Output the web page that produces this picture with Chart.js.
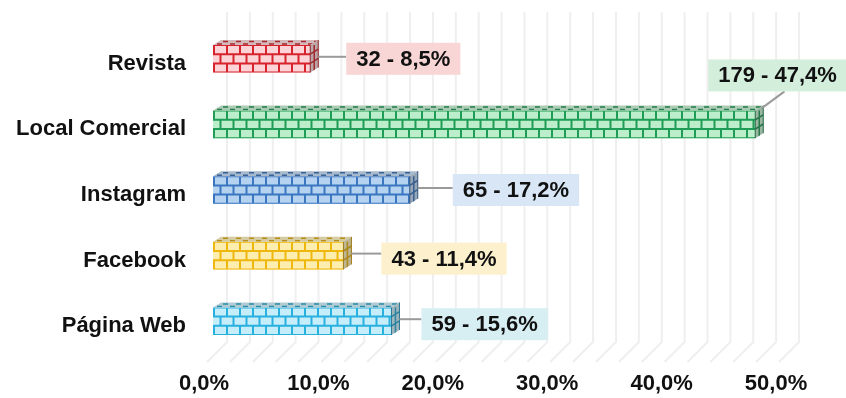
<!DOCTYPE html>
<html>
<head>
<meta charset="utf-8">
<script src="https://cdn.jsdelivr.net/npm/chart.js@4.4.0/dist/chart.umd.min.js"></script>
<style>
  html, body { margin: 0; padding: 0; background: #fff; }
</style>
</head>
<body>
<canvas id="chart" width="846" height="398"></canvas>
<script>
var categories = ['Revista', 'Local Comercial', 'Instagram', 'Facebook', 'Página Web'];
var counts = [32, 179, 65, 43, 59];
var percents = [8.5, 47.4, 17.2, 11.4, 15.6];
var tickValues = [0, 10, 20, 30, 40, 50];

var brickColors = ['#fcd3d6', '#bdeecb', '#b5d3f1', '#fdeeb0', '#c6eefa'];
var mortarColors = ['#d8232d', '#1f9c55', '#3b76c0', '#efb60c', '#28b0de'];
var boxColors = ['#f8d6d6', '#d4eedc', '#d9e6f6', '#fdf0cd', '#d7eef3'];

// label box placement relative to the bar end (dx, dy)
var labelShift = [[28, 0], [-55, -49], [35, 0], [30, 3], [22, 3]];

var FONT = '"Liberation Sans", Arial, sans-serif';
var DEPTH_X = 8, DEPTH_Y = 5;

function mix(hex, other, t) {
  var a = parseInt(hex.slice(1), 16), b = parseInt(other.slice(1), 16);
  var r = Math.round(((a >> 16) & 255) * (1 - t) + ((b >> 16) & 255) * t);
  var g = Math.round(((a >> 8) & 255) * (1 - t) + ((b >> 8) & 255) * t);
  var bl = Math.round((a & 255) * (1 - t) + (b & 255) * t);
  return 'rgb(' + r + ',' + g + ',' + bl + ')';
}

function fmtPct(v) {
  return v.toFixed(1).replace('.', ',') + '%';
}

function drawBricks(ctx, x0, y0, w, h, mortar) {
  var rows = 3, rh = h / rows, bw = 13;
  ctx.save();
  ctx.beginPath();
  ctx.rect(x0, y0, w, h);
  ctx.clip();
  ctx.strokeStyle = mortar;
  ctx.lineWidth = 2;
  ctx.beginPath();
  for (var r = 0; r <= rows; r++) {
    var yy = y0 + r * rh;
    ctx.moveTo(x0, yy);
    ctx.lineTo(x0 + w, yy);
  }
  for (r = 0; r < rows; r++) {
    var off = (r % 2) ? bw / 2 : 0;
    for (var xx = x0 + 1 + off; xx <= x0 + w; xx += bw) {
      ctx.moveTo(xx, y0 + r * rh);
      ctx.lineTo(xx, y0 + (r + 1) * rh);
    }
  }
  ctx.stroke();
  ctx.restore();
}

var wallPlugin = {
  id: 'wall',
  beforeDatasetsDraw: function (chart) {
    var ctx = chart.ctx, xs = chart.scales.x, area = chart.chartArea;
    var top = area.top - 14, bottom = area.bottom - 12;
    ctx.save();
    ctx.lineWidth = 2;
    for (var v = 0; v <= 50; v += 2) {
      var bx = xs.getPixelForValue(v) + 14;
      ctx.strokeStyle = '#efefef';
      ctx.beginPath();
      ctx.moveTo(bx, top);
      ctx.lineTo(bx, bottom);
      ctx.lineTo(bx - 20, bottom + 20);
      ctx.stroke();
    }
    ctx.restore();
  }
};

var brickPlugin = {
  id: 'bricks',
  afterDatasetsDraw: function (chart) {
    var ctx = chart.ctx;
    var meta = chart.getDatasetMeta(0);
    meta.data.forEach(function (bar, i) {
      var p = bar.getProps(['x', 'y', 'base', 'height'], true);
      var x0 = p.base, x1 = p.x, yT = p.y - p.height / 2, yB = p.y + p.height / 2;
      var mortar = mortarColors[i];

      drawBricks(ctx, x0, yT, x1 - x0, yB - yT, mortar);

      // top face
      ctx.save();
      ctx.beginPath();
      ctx.moveTo(x0, yT);
      ctx.lineTo(x1, yT);
      ctx.lineTo(x1 + DEPTH_X, yT - DEPTH_Y);
      ctx.lineTo(x0 + DEPTH_X, yT - DEPTH_Y);
      ctx.closePath();
      ctx.fillStyle = mix(brickColors[i], '#8a8a8a', 0.35);
      ctx.fill();
      ctx.clip();
      ctx.strokeStyle = mix(mortar, '#333333', 0.3);
      ctx.lineWidth = 1.5;
      ctx.beginPath();
      for (var xx = x0 + 4; xx < x1 + DEPTH_X; xx += 13) {
        ctx.moveTo(xx, yT - 1);
        ctx.lineTo(xx + 5, yT - 1);
        ctx.moveTo(xx + 6, yT - 3.5);
        ctx.lineTo(xx + 11, yT - 3.5);
      }
      ctx.stroke();
      ctx.restore();

      // side face
      ctx.save();
      ctx.beginPath();
      ctx.moveTo(x1, yT);
      ctx.lineTo(x1 + DEPTH_X, yT - DEPTH_Y);
      ctx.lineTo(x1 + DEPTH_X, yB - DEPTH_Y);
      ctx.lineTo(x1, yB);
      ctx.closePath();
      ctx.fillStyle = mix(brickColors[i], '#6f6f6f', 0.45);
      ctx.fill();
      ctx.clip();
      ctx.strokeStyle = mix(mortar, '#333333', 0.35);
      ctx.lineWidth = 1.5;
      ctx.beginPath();
      var rh = (yB - yT) / 3;
      for (var r = 1; r < 3; r++) {
        ctx.moveTo(x1, yT + r * rh);
        ctx.lineTo(x1 + DEPTH_X, yT + r * rh - DEPTH_Y);
      }
      ctx.moveTo(x1 + DEPTH_X / 2, yT);
      ctx.lineTo(x1 + DEPTH_X / 2, yB);
      ctx.stroke();
      ctx.restore();

      // outline
      ctx.save();
      ctx.strokeStyle = mix(mortar, '#222222', 0.4);
      ctx.lineWidth = 1;
      ctx.beginPath();
      ctx.moveTo(x1, yT);
      ctx.lineTo(x1, yB);
      ctx.moveTo(x1 + DEPTH_X, yT - DEPTH_Y);
      ctx.lineTo(x1 + DEPTH_X, yB - DEPTH_Y);
      ctx.stroke();
      ctx.restore();
    });
  }
};

var labelPlugin = {
  id: 'valueLabels',
  afterDatasetsDraw: function (chart) {
    var ctx = chart.ctx;
    var meta = chart.getDatasetMeta(0);
    ctx.save();
    ctx.font = 'bold 22px ' + FONT;
    ctx.textBaseline = 'middle';
    meta.data.forEach(function (bar, i) {
      var p = bar.getProps(['x', 'y', 'height'], true);
      var endX = p.x + DEPTH_X;
      var txt = counts[i] + ' - ' + fmtPct(percents[i]);
      var tw = ctx.measureText(txt).width;
      var bw = tw + 20, bh = 32;
      var bx = endX + labelShift[i][0];
      var cy = p.y + labelShift[i][1];

      ctx.strokeStyle = '#9a9a9a';
      ctx.lineWidth = 2;
      ctx.beginPath();
      if (labelShift[i][1] < -20) {
        ctx.moveTo(endX - 2, p.y - p.height / 2 - 2);
        ctx.lineTo(bx + bw * 0.55, cy + bh / 2);
      } else {
        ctx.moveTo(endX, p.y - 2);
        ctx.lineTo(bx, p.y - 2);
      }
      ctx.stroke();

      ctx.fillStyle = boxColors[i];
      ctx.fillRect(bx, cy - bh / 2, bw, bh);
      ctx.fillStyle = '#111';
      ctx.textAlign = 'left';
      ctx.fillText(txt, bx + 10, cy + 1);
    });
    ctx.restore();
  }
};

new Chart(document.getElementById('chart'), {
  type: 'bar',
  data: {
    labels: categories,
    datasets: [{
      data: percents,
      backgroundColor: brickColors,
      borderWidth: 0,
      categoryPercentage: 1,
      barPercentage: 0.42
    }]
  },
  options: {
    indexAxis: 'y',
    responsive: false,
    devicePixelRatio: 1,
    animation: false,
    layout: { padding: { top: 26, right: 61, left: 0, bottom: 0 } },
    plugins: {
      legend: { display: false },
      tooltip: { enabled: false }
    },
    scales: {
      x: {
        min: 0,
        max: 50,
        afterBuildTicks: function (scale) {
          scale.ticks = tickValues.map(function (v) { return { value: v }; });
        },
        afterFit: function (scale) {
          scale.height = 44;
          scale.paddingLeft = 0;
          scale.paddingRight = 0;
        },
        grid: { display: false, drawTicks: false },
        border: { display: false },
        ticks: {
          padding: 17,
          labelOffset: -9,
          color: '#111',
          font: { family: FONT, size: 22, weight: 'bold' },
          callback: function (v) { return fmtPct(v); }
        }
      },
      y: {
        afterFit: function (scale) {
          scale.width = 213;
          scale.paddingTop = 0;
          scale.paddingBottom = 0;
        },
        grid: { display: false, drawTicks: false },
        border: { display: false },
        ticks: {
          padding: 27,
          labelOffset: 5,
          color: '#111',
          font: { family: FONT, size: 22, weight: 'bold' }
        }
      }
    }
  },
  plugins: [wallPlugin, brickPlugin, labelPlugin]
});
</script>
</body>
</html>
